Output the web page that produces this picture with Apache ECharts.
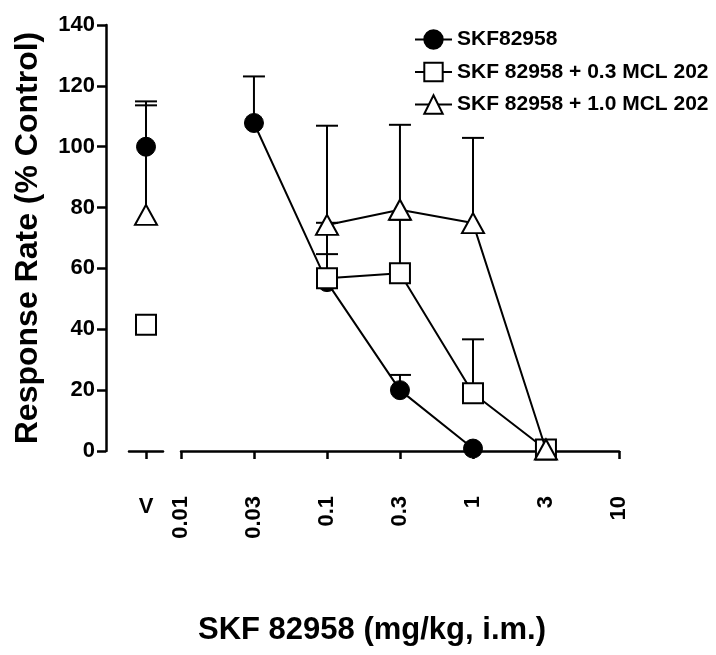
<!DOCTYPE html>
<html>
<head>
<meta charset="utf-8">
<script src="https://cdn.jsdelivr.net/npm/echarts@6/dist/echarts.min.js"></script>
<style>html,body{margin:0;padding:0;background:#fff;}#c{width:716px;height:655px;}</style>
</head>
<body>
<div id="c"></div>
<script>
// ---- data ----
const doseTickLabels = ['0.01', '0.03', '0.1', '0.3', '1', '3', '10'];
const vehicleCategory = ['V'];
const seriesNames = ['SKF82958', 'SKF 82958 + 0.3 MCL 202', 'SKF 82958 + 1.0 MCL 202'];

// SKF82958 alone
const skfDose = [0.0316, 0.1, 0.316, 1];
const skfValue = [107.8, 55.5, 20.0, 0.8];
const skfUpper = [123.1, 64.7, 25.0, null];
const skfVehicle = 100;
const skfVehicleUpper = 114.9;

// SKF 82958 + 0.3 MCL 202
const mcl03Dose = [0.1, 0.316, 1, 3.16];
const mcl03Value = [56.8, 58.4, 19.0, 0.5];
const mcl03Upper = [75.0, 76.0, 36.7, null];
const mcl03Vehicle = 41.5;
const mcl03VehicleUpper = null;

// SKF 82958 + 1.0 MCL 202
const mcl10Dose = [0.1, 0.316, 1, 3.16];
const mcl10Value = [74.3, 79.3, 74.9, 0.5];
const mcl10Upper = [106.9, 107.2, 102.9, null];
const mcl10Vehicle = 77.6;
const mcl10VehicleUpper = 113.6;

const yTickValues = [0, 20, 40, 60, 80, 100, 120, 140];

// ---- chart ----
const FONT = '"Liberation Sans", Arial, Helvetica, sans-serif';
const chart = echarts.init(document.getElementById('c'), null, {renderer: 'canvas'});

function errRender(params, api) {
  const x = api.value(0);
  const lo = api.value(1);
  const hi = api.value(2);
  const p0 = api.coord([x, lo]);
  const p1 = api.coord([x, hi]);
  const half = 11;
  return {
    type: 'group',
    children: [
      {type: 'line', shape: {x1: p0[0], y1: p0[1], x2: p1[0], y2: p1[1]}, style: {stroke: '#000', lineWidth: 2}},
      {type: 'line', shape: {x1: p1[0] - half, y1: p1[1], x2: p1[0] + half, y2: p1[1]}, style: {stroke: '#000', lineWidth: 2}}
    ]
  };
}

function errData(xs, vals, uppers) {
  const out = [];
  xs.forEach((x, i) => { if (uppers[i] != null) out.push([x, vals[i], uppers[i]]); });
  return out;
}

const styles = [
  {symbol: 'circle', symbolSize: 19, itemStyle: {color: '#000', borderColor: '#000', borderWidth: 1, opacity: 1}},
  {symbol: 'rect', symbolSize: 20, itemStyle: {color: '#fff', borderColor: '#000', borderWidth: 2, opacity: 1}},
  {symbol: 'triangle', symbolSize: [22, 20], itemStyle: {color: '#fff', borderColor: '#000', borderWidth: 2, opacity: 1}}
];

const groups = [
  {dose: skfDose, val: skfValue, up: skfUpper, v: skfVehicle, vUp: skfVehicleUpper},
  {dose: mcl03Dose, val: mcl03Value, up: mcl03Upper, v: mcl03Vehicle, vUp: mcl03VehicleUpper},
  {dose: mcl10Dose, val: mcl10Value, up: mcl10Upper, v: mcl10Vehicle, vUp: mcl10VehicleUpper}
];

const series = [];
// error bars first (drawn below)
groups.forEach((g) => {
  series.push({
    type: 'custom', xAxisIndex: 1, yAxisIndex: 1, silent: true, z: 1,
    renderItem: errRender, encode: {x: 0, y: [1, 2]},
    data: errData(g.dose, g.val, g.up)
  });
  series.push({
    type: 'custom', xAxisIndex: 0, yAxisIndex: 0, silent: true, z: 1,
    renderItem: errRender, encode: {x: 0, y: [1, 2]},
    data: errData(vehicleCategory, [g.v], [g.vUp])
  });
});
groups.forEach((g, k) => {
  series.push(Object.assign({
    name: seriesNames[k], type: 'line', xAxisIndex: 1, yAxisIndex: 1, z: 3 + k,
    lineStyle: {color: '#000', width: 2},
    showAllSymbol: true, animation: false,
    data: g.dose.map((d, i) => [d, g.val[i]])
  }, styles[k]));
});
groups.forEach((g, k) => {
  series.push(Object.assign({
    name: seriesNames[k], type: 'scatter', xAxisIndex: 0, yAxisIndex: 0, z: 3 + k,
    animation: false,
    data: [[vehicleCategory[0], g.v]]
  }, styles[k]));
});

const axisLineStyle = {color: '#000', width: 2.5};
const labelStyle = {color: '#000', fontFamily: FONT, fontWeight: 'bold', fontSize: 22};

const option = {
  animation: false,
  backgroundColor: '#fff',
  textStyle: {fontFamily: FONT},
  title: {
    text: 'SKF 82958 (mg/kg, i.m.)',
    left: 372, top: 615, textAlign: 'center', padding: 0,
    textStyle: {color: '#000', fontFamily: FONT, fontWeight: 'bold', fontSize: 31}
  },
  legend: {
    orient: 'vertical', left: 414, top: 28, padding: 0,
    itemWidth: 37, itemHeight: 23, itemGap: 9.5,
    data: seriesNames,
    textStyle: {color: '#000', fontFamily: FONT, fontWeight: 'bold', fontSize: 21, lineHeight: 23, padding: [0, 0, 0, 0]},
    itemStyle: {opacity: 1}
  },
  grid: [
    {left: 129, width: 34, top: 25, height: 426},
    {left: 181, width: 438, top: 25, height: 426}
  ],
  xAxis: [
    {
      gridIndex: 0, type: 'category', data: vehicleCategory, boundaryGap: true,
      position: 'bottom', offset: 24,
      axisLine: {show: true, lineStyle: axisLineStyle},
      axisTick: {show: true, alignWithLabel: true, length: 8, lineStyle: axisLineStyle},
      axisLabel: Object.assign({margin: 21}, labelStyle),
      splitLine: {show: false}
    },
    {
      gridIndex: 1, type: 'log', logBase: Math.sqrt(10), min: 0.01, max: 10,
      position: 'bottom', offset: 24,
      axisLine: {show: true, lineStyle: axisLineStyle},
      axisTick: {show: true, length: 8, lineStyle: axisLineStyle},
      minorTick: {show: false},
      axisLabel: Object.assign({
        margin: 21, rotate: 90, showMinLabel: true, showMaxLabel: true, hideOverlap: false,
        formatter: function (v) {
          const idx = Math.round(2 * Math.log10(v)) + 4;
          return doseTickLabels[idx] !== undefined ? doseTickLabels[idx] : '';
        }
      }, labelStyle),
      splitLine: {show: false}
    }
  ],
  yAxis: [
    {
      gridIndex: 0, type: 'value', min: yTickValues[0], max: yTickValues[yTickValues.length - 1],
      interval: yTickValues[1] - yTickValues[0],
      position: 'left', offset: 23,
      name: 'Response Rate (% Control)', nameLocation: 'middle', nameGap: 62,
      nameTextStyle: {color: '#000', fontFamily: FONT, fontWeight: 'bold', fontSize: 32},
      axisLine: {show: true, lineStyle: axisLineStyle},
      axisTick: {show: true, length: 9, lineStyle: axisLineStyle},
      axisLabel: Object.assign({margin: 11}, labelStyle),
      splitLine: {show: false}
    },
    {
      gridIndex: 1, type: 'value', min: yTickValues[0], max: yTickValues[yTickValues.length - 1],
      show: false, splitLine: {show: false}
    }
  ],
  series: series
};
chart.setOption(option);
</script>
</body>
</html>
